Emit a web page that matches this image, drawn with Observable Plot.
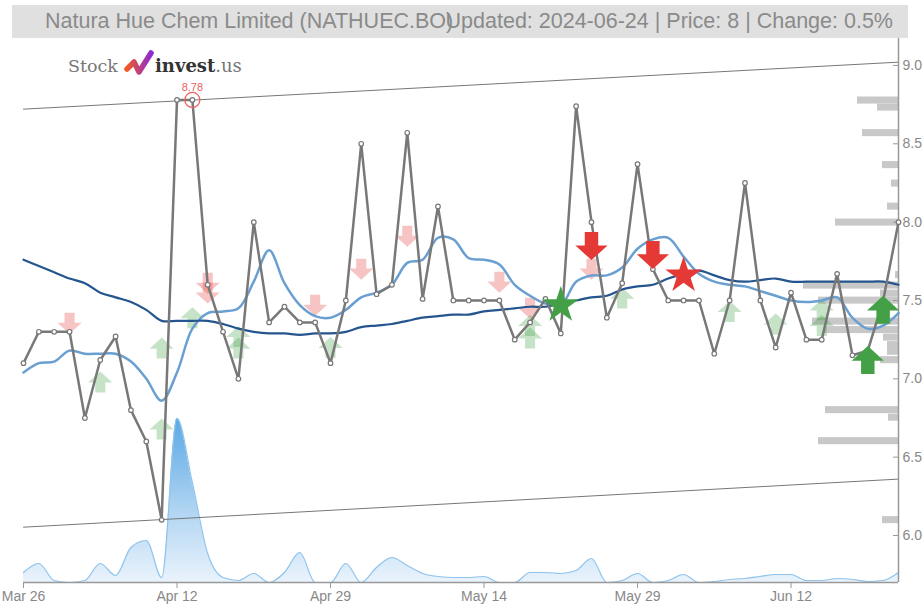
<!DOCTYPE html>
<html><head><meta charset="utf-8">
<script src="https://cdn.jsdelivr.net/npm/d3@7"></script>
<script src="https://cdn.jsdelivr.net/npm/@observablehq/plot@0.6"></script>
<style>
body{margin:0;background:#fff;overflow:hidden}
#wrap{position:relative;width:923px;height:608px;overflow:hidden}
#title{position:absolute;left:12px;top:5px;width:896px;height:33px;background:#e0e0e0;font-family:"Liberation Sans",Arial,sans-serif;font-size:21.5px;color:#8a8a8a}
#t1{position:absolute;left:33px;top:4px;white-space:nowrap}
#t2{position:absolute;right:15px;top:4px;white-space:nowrap}
#logo{position:absolute;left:60px;top:48px}
</style></head>
<body>
<div id="wrap">
<div id="chart"></div>
<div id="title"><span id="t1">Natura Hue Chem Limited (NATHUEC.BO)</span><span id="t2">Updated: 2024-06-24 | Price: 8 | Change: 0.5%</span></div>
<svg id="logo" width="200" height="34" viewBox="0 0 200 34">
<defs><linearGradient id="lg" x1="0" x2="1" y1="0" y2="0"><stop offset="0" stop-color="#f05a28"/><stop offset="1" stop-color="#8e2bd0"/></linearGradient></defs>
<text x="8" y="24" font-family="DejaVu Serif" font-size="17.5" fill="#777">Stock</text>
<path d="M67 21 L74 14 L79 24 L91 5" fill="none" stroke="url(#lg)" stroke-width="5.5" stroke-linejoin="round" stroke-linecap="round"/>
<text x="95" y="24" font-family="DejaVu Serif" font-weight="bold" font-size="18" fill="#333">invest<tspan font-weight="normal" fill="#777">.us</tspan></text>
</svg>
</div>
<script>
// x positions are trading-day indices
const tickIdx = [0, 10, 20, 30, 40, 50];
const tickLabels = ["Mar 26", "Apr 12", "Apr 29", "May 14", "May 29", "Jun 12"];
const yTicks = [6.0, 6.5, 7.0, 7.5, 8.0, 8.5, 9.0];

const close = [7.10,7.30,7.30,7.30,6.75,7.12,7.27,6.80,6.60,6.10,
 8.78,8.78,7.60,7.30,7.00,8.00,7.36,7.46,7.36,7.36,
 7.10,7.50,8.50,7.54,7.60,8.57,7.51,8.10,7.50,7.50,
 7.50,7.50,7.25,7.36,7.51,7.29,8.74,8.00,7.39,7.61,
 8.37,7.70,7.50,7.50,7.50,7.16,7.50,8.25,7.50,7.20,
 7.55,7.25,7.25,7.67,7.15,7.18,7.50,8.00];

const maShort = [7.04,7.10,7.11,7.18,7.16,7.16,7.16,7.11,7.00,6.86,
 7.04,7.32,7.42,7.43,7.45,7.62,7.82,7.61,7.47,7.40,
 7.39,7.44,7.52,7.55,7.60,7.74,7.76,7.90,7.89,7.77,
 7.76,7.73,7.60,7.53,7.48,7.47,7.62,7.66,7.66,7.71,
 7.83,7.89,7.90,7.78,7.67,7.62,7.60,7.59,7.56,7.53,
 7.50,7.49,7.50,7.52,7.39,7.32,7.34,7.42];

const maLong = [7.76,7.72,7.68,7.64,7.61,7.55,7.52,7.49,7.44,7.37,
 7.37,7.37,7.37,7.35,7.32,7.30,7.29,7.29,7.28,7.29,
 7.29,7.30,7.33,7.34,7.35,7.37,7.39,7.40,7.41,7.41,
 7.43,7.44,7.45,7.46,7.46,7.48,7.50,7.52,7.53,7.57,
 7.59,7.60,7.64,7.67,7.69,7.66,7.63,7.62,7.63,7.64,
 7.62,7.62,7.62,7.62,7.62,7.62,7.62,7.60];

const volume = [1500,2850,300,0,300,2850,1050,5250,6300,750,
 24600,15000,4350,750,300,1350,0,1500,4500,0,
 0,2850,0,2250,3750,2550,1350,900,750,750,
 900,0,0,1500,1500,1350,1800,3600,0,300,
 1350,0,300,1200,0,150,450,600,900,1200,
 1200,300,300,600,450,150,300,1500];

// price channel endpoints (first and last index)
const channelIdx = [0, 57];
const channelTop = [8.721, 9.021];
const channelBottom = [6.053, 6.360];

// volume-by-price profile
const profilePrice = [8.776,8.731,8.568,8.364,8.246,8.099,7.997,7.662,7.595,7.544,7.499,7.365,7.311,7.263,7.215,7.173,7.119,6.800,6.752,6.602,6.098];
const profileVol = [410,210,360,160,70,110,630,30,950,180,800,860,730,150,110,110,180,730,100,800,160];

// signals
const weakSellIdx = [3,12,12,19,22,25,31,33,37];
const weakSellY = [7.355,7.61,7.547,7.47,7.70,7.91,7.617,7.45,7.70];
const weakBuyIdx = [5,9,9,11,14,14,20,33,33,39,46,49,52,52];
const weakBuyY = [6.98,7.196,6.68,7.39,7.27,7.196,7.20,7.34,7.26,7.515,7.43,7.35,7.44,7.34];
const sellIdx = [37,41];
const sellY = [7.847,7.79];
const buyIdx = [55,56];
const buyY = [7.12,7.44];
const sellStarIdx = [43]; const sellStarY = [7.66];
const buyStarIdx = [35]; const buyStarY = [7.47];
const maxIdx = 11, maxVal = 8.78;

const yMin = 5.70, yMax = 9.172, volTop = 6.747;
const lastIdx = close.length - 1;

const maxVol = d3.max(volume);
const volRows = volume.map((v, i) => ({i, y: yMin + v / maxVol * (volTop - yMin)}));
const maxProf = d3.max(profileVol);
const profRows = profilePrice.map((p, k) => ({p, v: profileVol[k]}));
const profLen = 95 / 15.35; // index units for the largest bin

const arrowUp = {draw(ctx, size) {
  const r = Math.sqrt(size / Math.PI), hw = 1.15 * r, sw = 0.48 * r, hy = 0.05 * r;
  ctx.moveTo(0, -r); ctx.lineTo(hw, hy); ctx.lineTo(sw, hy); ctx.lineTo(sw, r);
  ctx.lineTo(-sw, r); ctx.lineTo(-sw, hy); ctx.lineTo(-hw, hy); ctx.closePath();
}};
const arrowDown = {draw(ctx, size) {
  const r = Math.sqrt(size / Math.PI), hw = 1.15 * r, sw = 0.48 * r, hy = -0.05 * r;
  ctx.moveTo(0, r); ctx.lineTo(hw, hy); ctx.lineTo(sw, hy); ctx.lineTo(sw, -r);
  ctx.lineTo(-sw, -r); ctx.lineTo(-sw, hy); ctx.lineTo(-hw, hy); ctx.closePath();
}};

const gradMark = () => {
  const ns = "http://www.w3.org/2000/svg";
  const defs = document.createElementNS(ns, "defs");
  const g = document.createElementNS(ns, "linearGradient");
  g.setAttribute("id", "volGrad"); g.setAttribute("x1", "0"); g.setAttribute("x2", "0");
  g.setAttribute("y1", "0"); g.setAttribute("y2", "1");
  [["0", "#5aa8e4"], ["0.6", "#b5d7f3"], ["1", "#eaf3fc"]].forEach(([o, c]) => {
    const s = document.createElementNS(ns, "stop");
    s.setAttribute("offset", o); s.setAttribute("stop-color", c);
    g.appendChild(s);
  });
  defs.appendChild(g);
  return defs;
};

const plot = Plot.plot({
  width: 923, height: 608,
  marginLeft: 23, marginRight: 25, marginTop: 38, marginBottom: 26,
  style: {fontFamily: "'Liberation Sans', Arial, sans-serif", fontSize: "14px", color: "#888", background: "transparent"},
  x: {domain: [0, lastIdx], label: null},
  y: {domain: [yMin, yMax], label: null},
  marks: [
    gradMark,
    Plot.areaY(volRows, {x: "i", y1: yMin, y2: "y", curve: "monotone-x", fill: "url(#volGrad)"}),
    Plot.lineY(volRows, {x: "i", y: "y", curve: "monotone-x", stroke: "#90c4ec", strokeWidth: 1.2}),
    Plot.line(channelIdx, {x: d => d, y: (d, k) => channelTop[k], stroke: "#777", strokeWidth: 1}),
    Plot.line(channelIdx, {x: d => d, y: (d, k) => channelBottom[k], stroke: "#777", strokeWidth: 1}),
    Plot.rect(profRows, {x1: d => lastIdx - d.v / maxProf * profLen, x2: lastIdx, y1: d => d.p - 0.0225, y2: d => d.p + 0.0225, fill: "#c8c8c8"}),
    Plot.ruleY([yMin], {stroke: "#999", strokeWidth: 1.5}),
    Plot.ruleX([lastIdx], {stroke: "#999", strokeWidth: 1.5}),
    Plot.axisX({ticks: tickIdx, tickFormat: i => tickLabels[tickIdx.indexOf(i)], tickSize: 6, tickPadding: 3, stroke: "#999", label: null}),
    Plot.axisY({anchor: "right", ticks: yTicks, tickSize: -6, text: null, stroke: "#999", label: null}),
    Plot.axisY({anchor: "right", ticks: yTicks, tickSize: 0, tickPadding: 4, tickFormat: d3.format(".1f"), label: null}),
    Plot.dot(weakSellIdx, {x: d => d, y: (d, k) => weakSellY[k], symbol: arrowDown, r: 10.5, fill: "#e63c3c", fillOpacity: 0.3, stroke: null}),
    Plot.dot(weakBuyIdx, {x: d => d, y: (d, k) => weakBuyY[k], symbol: arrowUp, r: 10.5, fill: "#43a047", fillOpacity: 0.3, stroke: null}),
    Plot.lineY(maShort, {x: (d, i) => i, y: d => d, curve: "catmull-rom", stroke: "#6a9fd2", strokeWidth: 2.5}),
    Plot.lineY(maLong, {x: (d, i) => i, y: d => d, curve: "catmull-rom", stroke: "#24558f", strokeWidth: 2.2}),
    Plot.lineY(close, {x: (d, i) => i, y: d => d, stroke: "#787878", strokeWidth: 2.5}),
    Plot.dot(close, {x: (d, i) => i, y: d => d, r: 2.3, fill: "white", stroke: "#787878", strokeWidth: 1.2}),
    Plot.dot(sellIdx, {x: d => d, y: (d, k) => sellY[k], symbol: arrowDown, r: 14, fill: "#e53935", stroke: null}),
    Plot.dot(buyIdx, {x: d => d, y: (d, k) => buyY[k], symbol: arrowUp, r: 14, fill: "#43a047", stroke: null}),
    Plot.dot(sellStarIdx, {x: d => d, y: (d, k) => sellStarY[k], symbol: "star", r: 11.5, fill: "#e53935", stroke: null}),
    Plot.dot(buyStarIdx, {x: d => d, y: (d, k) => buyStarY[k], symbol: "star", r: 11.5, fill: "#43a047", stroke: null}),
    Plot.dot([maxIdx], {x: d => d, y: maxVal, r: 7.5, fill: "none", stroke: "#f06060", strokeWidth: 1.3}),
    Plot.text([maxIdx], {x: d => d, y: maxVal, text: () => maxVal.toFixed(2), dy: -12, fill: "#f06060", fontSize: 11})
  ]
});
document.getElementById("chart").appendChild(plot);
</script>
</body></html>
